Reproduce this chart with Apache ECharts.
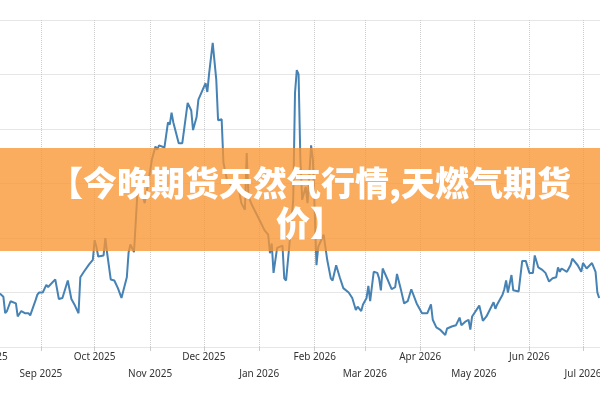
<!DOCTYPE html>
<html><head><meta charset="utf-8">
<script src="https://cdn.jsdelivr.net/npm/echarts@6/dist/echarts.min.js"></script>
<style>html,body{margin:0;padding:0;background:#fff}#c{width:600px;height:400px}</style>
</head><body><div id="c"></div>
<script>
const titleText = '【今晚期货天然气行情,天燃气期货\n价】';
const monthNames = ['Jan','Feb','Mar','Apr','May','Jun','Jul','Aug','Sep','Oct','Nov','Dec'];
const dates = [
'2025-08-09','2025-08-11','2025-08-12','2025-08-13','2025-08-15','2025-08-18','2025-08-19','2025-08-20','2025-08-21','2025-08-23',
'2025-08-25','2025-08-26','2025-08-29','2025-08-30','2025-08-31','2025-09-02','2025-09-04','2025-09-05','2025-09-09','2025-09-11',
'2025-09-13','2025-09-16','2025-09-17','2025-09-18','2025-09-20','2025-09-22','2025-09-23','2025-09-24','2025-09-25','2025-09-28',
'2025-09-30','2025-10-01','2025-10-02','2025-10-03','2025-10-06','2025-10-07','2025-10-08','2025-10-10','2025-10-12','2025-10-14',
'2025-10-16','2025-10-19','2025-10-20','2025-10-21','2025-10-23','2025-10-25','2025-10-26','2025-10-29','2025-11-01','2025-11-02',
'2025-11-04','2025-11-05','2025-11-06','2025-11-09','2025-11-10','2025-11-11','2025-11-12','2025-11-13','2025-11-14','2025-11-17',
'2025-11-19','2025-11-22','2025-11-24','2025-11-25','2025-11-27','2025-11-28','2025-12-02','2025-12-03','2025-12-04','2025-12-06',
'2025-12-08','2025-12-09','2025-12-11','2025-12-12','2025-12-14','2025-12-17','2025-12-20','2025-12-22','2025-12-24','2025-12-25',
'2025-12-26','2025-12-28','2026-01-01','2026-01-04','2026-01-06','2026-01-07','2026-01-08','2026-01-09','2026-01-11','2026-01-14',
'2026-01-15','2026-01-16','2026-01-17','2026-01-18','2026-01-20','2026-01-21','2026-01-22','2026-01-23','2026-01-24','2026-01-25',
'2026-01-27','2026-01-28','2026-01-30','2026-01-31','2026-02-01','2026-02-02','2026-02-03','2026-02-06','2026-02-08','2026-02-10',
'2026-02-11','2026-02-13','2026-02-15','2026-02-17','2026-02-20','2026-02-22','2026-02-24','2026-02-25','2026-02-27','2026-02-28',
'2026-03-02','2026-03-03','2026-03-04','2026-03-06','2026-03-08','2026-03-09','2026-03-10','2026-03-11','2026-03-12','2026-03-14',
'2026-03-16','2026-03-18','2026-03-19','2026-03-21','2026-03-23','2026-03-25','2026-03-27','2026-03-30','2026-03-31','2026-04-02',
'2026-04-05','2026-04-07','2026-04-08','2026-04-10','2026-04-12','2026-04-15','2026-04-16','2026-04-19','2026-04-21','2026-04-23',
'2026-04-24','2026-04-26','2026-04-28','2026-04-29','2026-04-30','2026-05-01','2026-05-04','2026-05-06','2026-05-08','2026-05-09',
'2026-05-12','2026-05-13','2026-05-14','2026-05-17','2026-05-18','2026-05-19','2026-05-20','2026-05-22','2026-05-23','2026-05-26',
'2026-05-28','2026-05-30','2026-06-01','2026-06-03','2026-06-04','2026-06-06','2026-06-08','2026-06-10','2026-06-11','2026-06-12',
'2026-06-14','2026-06-16','2026-06-17','2026-06-18','2026-06-19','2026-06-20','2026-06-22','2026-06-24','2026-06-25','2026-06-28',
'2026-06-30','2026-07-01','2026-07-03','2026-07-04','2026-07-06','2026-07-08','2026-07-09','2026-07-10'
];
const prices = [
2.49,2.46,2.31,2.33,2.42,2.40,2.28,2.27,2.33,2.31,
2.31,2.29,2.43,2.48,2.50,2.50,2.57,2.55,2.62,2.44,
2.45,2.61,2.61,2.44,2.38,2.31,2.64,2.65,2.69,2.76,
2.80,2.98,2.92,2.83,2.84,3.00,2.86,2.62,2.61,2.54,
2.45,2.64,2.87,2.94,2.87,3.44,3.49,3.32,3.61,3.72,
3.84,3.81,3.85,3.83,3.83,4.06,4.04,4.15,4.06,3.87,
3.87,4.24,4.17,3.99,4.11,4.27,4.42,4.34,4.51,4.79,
4.45,4.08,4.09,3.69,3.53,3.47,3.50,3.32,3.26,3.78,
3.38,3.30,3.17,3.07,3.03,2.86,2.95,2.68,2.91,2.93,
2.63,2.61,2.60,2.96,3.35,4.33,4.54,4.50,3.72,3.35,
3.47,3.32,3.85,3.72,3.26,2.75,2.92,3.03,2.80,2.63,
2.61,2.75,2.64,2.54,2.50,2.45,2.34,2.37,2.33,2.39,
2.45,2.56,2.42,2.69,2.68,2.63,2.52,2.72,2.73,2.61,
2.53,2.55,2.67,2.54,2.40,2.42,2.53,2.40,2.39,2.31,
2.31,2.39,2.25,2.18,2.16,2.11,2.17,2.19,2.20,2.27,
2.20,2.23,2.25,2.16,2.28,2.28,2.38,2.24,2.28,2.27,
2.41,2.35,2.39,2.48,2.53,2.61,2.50,2.66,2.52,2.51,
2.79,2.79,2.68,2.68,2.84,2.73,2.71,2.68,2.69,2.60,
2.63,2.64,2.73,2.69,2.72,2.73,2.69,2.75,2.81,2.75,
2.69,2.77,2.72,2.73,2.77,2.69,2.50,2.45
];
const chart = echarts.init(document.getElementById('c'), null, {renderer:'canvas'});
chart.setOption({
  animation: false,
  backgroundColor: '#fff',
  title: {
    text: titleText, left: 305, top: 158, textAlign: 'center', z: 200,
    textStyle: {color: '#fff', fontSize: 34, fontWeight: 900, lineHeight: 40, fontFamily: '"Noto Sans CJK SC"'}
  },
  graphic: [{type: 'rect', left: 0, top: 148, z: 100, shape: {width: 600, height: 103}, style: {fill: 'rgba(250,150,50,0.78)'}}],
  grid: {left: -14.5, right: -38.5, top: 20, bottom: 53, containLabel: false, outerBoundsMode: 'none'},
  xAxis: {
    type: 'time', min: '2025-08-01', max: '2026-08-01', splitNumber: 12, minInterval: 28 * 864e5,
    axisLine: {show: false},
    axisTick: {show: true, length: 4, lineStyle: {color: '#ccc'}},
    splitLine: {show: true, lineStyle: {color: '#ccc', type: 'dotted'}},
    axisLabel: {
      margin: 2, lineHeight: 17, fontSize: 10, color: '#333', fontFamily: 'Noto Sans', hideOverlap: false,
      formatter: function (value) {
        const d = new Date(value);
        const m = d.getMonth();
        const label = monthNames[m] + ' ' + d.getFullYear();
        return (m % 2 === 1) ? label : '\n' + label;
      }
    }
  },
  yAxis: {
    type: 'value', min: 2, max: 5, interval: 0.5,
    axisLabel: {show: false}, axisLine: {show: false}, axisTick: {show: false},
    splitLine: {lineStyle: {color: '#ccc', type: 'dotted'}}
  },
  series: [{
    type: 'line', data: dates.map((d, i) => [d, prices[i]]), showSymbol: false,
    lineStyle: {color: '#4682b4', width: 2}, itemStyle: {color: '#4682b4'}
  }]
});
</script></body></html>
